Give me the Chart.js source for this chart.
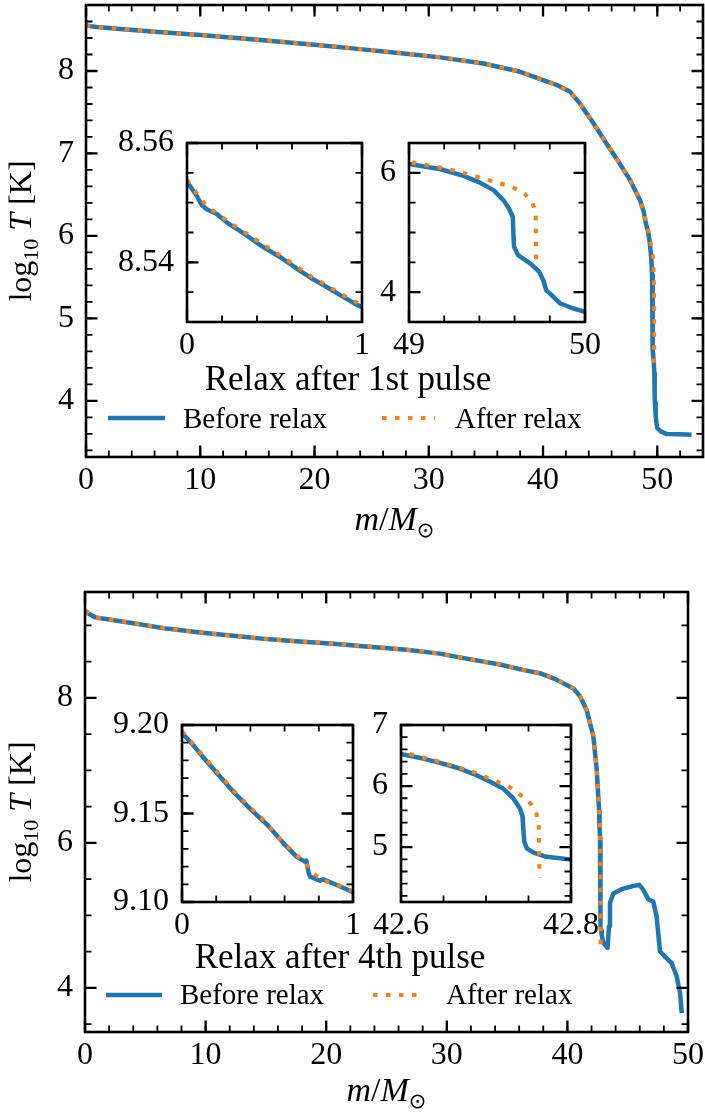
<!DOCTYPE html>
<html>
<head>
<meta charset="utf-8">
<title>Relax profiles</title>
<script src="https://cdn.jsdelivr.net/npm/chart.js@4.4.1/dist/chart.umd.min.js"></script>
<style>
  html, body { margin: 0; padding: 0; background: #fff; }
  #page { position: relative; width: 705px; height: 1118px; overflow: hidden; }
  #page canvas { position: absolute; left: 0; top: 0; }
</style>
</head>
<body>
<div id="page">
  <canvas id="top-main" width="705" height="1118"></canvas>
  <canvas id="bottom-main" width="705" height="1118"></canvas>
  <canvas id="top-core" width="705" height="1118"></canvas>
  <canvas id="top-edge" width="705" height="1118"></canvas>
  <canvas id="bottom-core" width="705" height="1118"></canvas>
  <canvas id="bottom-edge" width="705" height="1118"></canvas>
</div>
<script>
// ---- data ----
const seriesLabels = ['Before relax', 'After relax'];
const panelNotes = ['Relax after 1st pulse', 'Relax after 4th pulse'];

// 1st pulse
const topMassBefore = [0, 0.055, 0.084, 0.113, 0.17, 0.227, 0.341, 0.417, 0.531, 0.655,
  0.713, 0.779, 0.893, 0.97, 1, 3, 6, 10, 15, 20,
  24, 28, 31, 34.8, 38, 39.7, 41.2, 42.35, 43.2, 44.4,
  45.55, 46.7, 47.6, 48.5, 48.8, 49, 49.18, 49.31, 49.4, 49.48,
  49.54, 49.57, 49.59, 49.593, 49.597, 49.62, 49.69, 49.74, 49.763, 49.78,
  49.8, 49.86, 49.93, 50, 50.3, 50.8, 52, 53];
const topLogTBefore = [8.5535, 8.5512, 8.5496, 8.5489, 8.5481, 8.5467, 8.5445, 8.5429, 8.5409, 8.5384,
  8.5373, 8.5362, 8.5342, 8.5329, 8.5325, 8.51, 8.476, 8.435, 8.378, 8.318,
  8.265, 8.21, 8.165, 8.09, 7.99, 7.905, 7.83, 7.75, 7.61, 7.37,
  7.12, 6.88, 6.68, 6.43, 6.30, 6.15, 6.06, 5.95, 5.84, 5.71,
  5.53, 5.39, 5.26, 4.98, 4.76, 4.62, 4.48, 4.34, 4.2, 4.03,
  3.98, 3.81, 3.73, 3.67, 3.63, 3.60, 3.595, 3.59];
const topMassAfter = [0, 0.055, 0.113, 0.227, 0.341, 0.531, 0.713, 0.893, 1, 3,
  6, 10, 15, 20, 24, 28, 31, 34.8, 38, 39.7,
  41.2, 42.35, 43.2, 44.4, 45.55, 46.7, 47.6, 48.5, 48.8, 49,
  49.16, 49.31, 49.44, 49.59, 49.66, 49.7, 49.72, 49.722];
const topLogTAfter = [8.5538, 8.5516, 8.5494, 8.547, 8.5448, 8.5412, 8.5376, 8.5345, 8.5328, 8.511,
  8.477, 8.436, 8.379, 8.319, 8.266, 8.211, 8.166, 8.091, 7.991, 7.906,
  7.831, 7.751, 7.611, 7.371, 7.121, 6.881, 6.681, 6.435, 6.31, 6.18,
  6.10, 6.0, 5.89, 5.76, 5.64, 5.51, 5.33, 4.42];

// 4th pulse
const bottomMassBefore = [0, 0.057, 0.105, 0.154, 0.203, 0.3, 0.4, 0.5, 0.6, 0.67,
  0.719, 0.727, 0.74, 0.749, 0.807, 0.826, 0.905, 1, 2, 4,
  6.77, 9.54, 12.3, 15.07, 17.8, 20.6, 22.8, 26.67, 29.4, 32.2,
  34.4, 36.3, 37.7, 39.1, 40.5, 41.05, 41.6, 42.15, 42.43, 42.601,
  42.626, 42.646, 42.666, 42.685, 42.705, 42.72, 42.732, 42.74, 42.743, 42.744,
  42.745, 42.748, 42.756, 42.771, 42.8, 42.85, 42.98, 43.33, 43.45, 43.53,
  43.81, 44.5, 45.33, 45.96, 46.3, 46.71, 47.12, 47.4, 47.68, 48.09,
  48.65, 49.06, 49.34, 49.48];
const bottomLogTBefore = [9.1955, 9.1897, 9.184, 9.1784, 9.173, 9.1623, 9.1525, 9.1435, 9.1325, 9.1256,
  9.1228, 9.1234, 9.1168, 9.1143, 9.112, 9.1128, 9.1096, 9.1055, 9.08, 9.03,
  8.955, 8.90, 8.855, 8.81, 8.777, 8.745, 8.715, 8.662, 8.61, 8.524,
  8.46, 8.386, 8.34, 8.25, 8.13, 8.02, 7.83, 7.47, 7.01, 6.52,
  6.45, 6.38, 6.30, 6.20, 6.07, 5.96, 5.80, 5.63, 5.50, 5.28,
  5.09, 4.98, 4.91, 4.84, 4.795, 4.72, 4.62, 4.55, 4.85, 5.17,
  5.30, 5.36, 5.40, 5.42, 5.35, 5.22, 5.19, 4.98, 4.50, 4.43,
  4.34, 4.16, 3.93, 3.65];
const bottomMassAfter = [0, 0.105, 0.203, 0.3, 0.4, 0.5, 0.554, 0.667, 0.719, 0.764,
  0.823, 0.895, 0.963, 1, 2, 4, 6.77, 9.54, 12.3, 15.07,
  17.8, 20.6, 22.8, 26.67, 29.4, 32.2, 34.4, 36.3, 37.7, 39.1,
  40.5, 41.05, 41.6, 42.15, 42.43, 42.603, 42.642, 42.685, 42.726, 42.75,
  42.759, 42.762, 42.763];
const bottomLogTAfter = [9.1965, 9.1848, 9.1738, 9.1631, 9.1533, 9.1443, 9.1372, 9.1268, 9.1224, 9.1166,
  9.112, 9.1105, 9.1072, 9.1062, 9.081, 9.031, 8.956, 8.901, 8.856, 8.811,
  8.778, 8.746, 8.716, 8.663, 8.611, 8.525, 8.461, 8.387, 8.341, 8.251,
  8.131, 8.021, 7.831, 7.471, 7.02, 6.55, 6.41, 6.23, 6.0, 5.76,
  5.58, 5.36, 4.50];

// tick labels
const topXTicks = [0, 10, 20, 30, 40, 50];
const topYTicks = [4, 5, 6, 7, 8];
const topCoreXTicks = [0, 1];
const topCoreYTicks = [8.54, 8.56];
const topEdgeXTicks = [49, 50];
const topEdgeYTicks = [4, 6];
const bottomXTicks = [0, 10, 20, 30, 40, 50];
const bottomYTicks = [4, 6, 8];
const bottomCoreXTicks = [0, 1];
const bottomCoreYTicks = [9.10, 9.15, 9.20];
const bottomEdgeXTicks = [42.6, 42.8];
const bottomEdgeYTicks = [5, 6, 7];

// ---- styling / layout ----
const W = 705, H = 1118;
const SERIF = "'Liberation Serif', 'DejaVu Serif', serif";
const BLUE = '#1f77b4', ORANGE = '#ff7f0e';
const Y_SPACE = 80;   // room kept for y tick labels
const X_SPACE = 50;   // room kept for x tick labels

Chart.defaults.font.family = SERIF;
Chart.defaults.font.size = 32;
Chart.defaults.color = '#000';

const areaFill = {
    id: 'areaFill',
    beforeDraw(chart) {
        const a = chart.chartArea;
        chart.ctx.save();
        chart.ctx.fillStyle = '#fff';
        chart.ctx.fillRect(a.left, a.top, a.right - a.left, a.bottom - a.top);
        chart.ctx.restore();
    }
};

// inward ticks on all four sides + frame, like the matplotlib style
const frameTicks = {
    id: 'frameTicks',
    afterDraw(chart, args, opts) {
        const {ctx, chartArea: a, scales} = chart;
        const xs = scales.x, ys = scales.y;
        const minorValues = (scale, step) => {
            const out = [];
            const start = Math.ceil(scale.min / step - 1e-9);
            const end = Math.floor(scale.max / step + 1e-9);
            for (let k = start; k <= end; k++) out.push(k * step);
            return out;
        };
        const drawX = (values, len, lw) => {
            ctx.lineWidth = lw;
            ctx.beginPath();
            values.forEach(v => {
                const px = xs.getPixelForValue(v);
                ctx.moveTo(px, a.bottom); ctx.lineTo(px, a.bottom - len);
                ctx.moveTo(px, a.top); ctx.lineTo(px, a.top + len);
            });
            ctx.stroke();
        };
        const drawY = (values, len, lw) => {
            ctx.lineWidth = lw;
            ctx.beginPath();
            values.forEach(v => {
                const py = ys.getPixelForValue(v);
                ctx.moveTo(a.left, py); ctx.lineTo(a.left + len, py);
                ctx.moveTo(a.right, py); ctx.lineTo(a.right - len, py);
            });
            ctx.stroke();
        };
        ctx.save();
        ctx.strokeStyle = '#000';
        ctx.lineCap = 'butt';
        drawX(minorValues(xs, opts.xMinor), 6.5, 1.8);
        drawY(minorValues(ys, opts.yMinor), 6.5, 1.8);
        drawX(xs.ticks.map(t => t.value), 11.5, 2.3);
        drawY(ys.ticks.map(t => t.value), 11.5, 2.3);
        ctx.lineWidth = 2.6;
        ctx.strokeRect(a.left, a.top, a.right - a.left, a.bottom - a.top);
        ctx.restore();
    }
};

function runsWidth(ctx, runs) {
    let w = 0;
    runs.forEach(r => { ctx.font = r.font; w += ctx.measureText(r.text).width; });
    return w;
}

function drawRuns(ctx, runs, cx, baseY) {
    let x = cx - runsWidth(ctx, runs) / 2;
    ctx.textAlign = 'left';
    ctx.textBaseline = 'alphabetic';
    runs.forEach(r => {
        ctx.font = r.font;
        ctx.fillText(r.text, x, baseY + (r.dy || 0));
        x += ctx.measureText(r.text).width;
    });
}

const yTitleRuns = [
    {text: 'log', font: `32px ${SERIF}`},
    {text: '10', font: `22px ${SERIF}`, dy: 7},
    {text: ' ', font: `32px ${SERIF}`},
    {text: 'T', font: `italic 32px ${SERIF}`},
    {text: ' [K]', font: `32px ${SERIF}`}
];
const xTitleRuns = [
    {text: 'm', font: `italic 34px ${SERIF}`},
    {text: '/', font: `34px ${SERIF}`},
    {text: 'M', font: `italic 34px ${SERIF}`},
    {text: '\u2299', font: `21px 'DejaVu Sans', ${SERIF}`, dy: 7}
];

// axis titles, panel note and legend of a main panel
const panelText = {
    id: 'panelText',
    afterDraw(chart, args, o) {
        const {ctx, chartArea: a} = chart;
        ctx.save();
        ctx.fillStyle = '#000';
        // y title, rotated
        ctx.save();
        ctx.translate(o.yTitleX, (a.top + a.bottom) / 2);
        ctx.rotate(-Math.PI / 2);
        drawRuns(ctx, yTitleRuns, 0, 0);
        ctx.restore();
        drawRuns(ctx, xTitleRuns, (a.left + a.right) / 2, o.xTitleY);
        drawRuns(ctx, [{text: o.note, font: `35px ${SERIF}`}], o.noteX, o.noteY);
        // legend
        chart.data.datasets.forEach((ds, i) => {
            const it = o.legend[i];
            ctx.save();
            ctx.strokeStyle = ds.borderColor;
            ctx.lineWidth = ds.borderWidth;
            ctx.lineCap = 'butt';
            ctx.setLineDash(ds.borderDash || []);
            ctx.beginPath();
            ctx.moveTo(it.x0, o.legendLineY);
            ctx.lineTo(it.x1, o.legendLineY);
            ctx.stroke();
            ctx.restore();
            ctx.font = `29px ${SERIF}`;
            ctx.textAlign = 'left';
            ctx.textBaseline = 'alphabetic';
            ctx.fillText(ds.label, it.tx, o.legendTextY);
        });
        ctx.restore();
    }
};

function axis(def, dir) {
    return {
        type: 'linear',
        min: def.min,
        max: def.max,
        bounds: 'data',
        grid: {display: false, drawTicks: false},
        border: {display: false},
        ticks: {
            padding: def.pad,
            autoSkip: false,
            maxRotation: 0,
            minRotation: 0,
            font: {size: 32},
            callback: v => Number(v).toFixed(def.dec)
        },
        afterBuildTicks: s => { s.ticks = def.ticks.map(v => ({value: v})); },
        afterFit: s => {
            if (dir === 'x') s.height = X_SPACE; else s.width = Y_SPACE;
            s.paddingLeft = s.paddingRight = s.paddingTop = s.paddingBottom = 0;
        }
    };
}

function makeSeries(mass, logT, i) {
    const after = i === 1;
    return {
        label: seriesLabels[i],
        data: mass.map((m, k) => ({x: m, y: logT[k]})),
        borderColor: after ? ORANGE : BLUE,
        borderWidth: after ? 4 : 4.5,
        borderDash: after ? [4.5, 8.5] : [],
        borderCapStyle: 'butt',
        borderJoinStyle: 'round',
        pointRadius: 0,
        tension: 0,
        fill: false,
        clip: 0,
        order: after ? 0 : 1   // dotted "after" curve drawn on top
    };
}

function buildPanel(p) {
    return new Chart(document.getElementById(p.id), {
        type: 'line',
        data: {
            datasets: [
                makeSeries(p.before[0], p.before[1], 0),
                makeSeries(p.after[0], p.after[1], 1)
            ]
        },
        options: {
            responsive: false,
            animation: false,
            events: [],
            layout: {
                padding: {
                    left: p.box.left - Y_SPACE,
                    top: p.box.top,
                    right: W - p.box.right,
                    bottom: H - p.box.bottom - X_SPACE
                }
            },
            scales: {
                x: axis(p.x, 'x'),
                y: axis(p.y, 'y')
            },
            plugins: {
                legend: {display: false},
                tooltip: {enabled: false},
                frameTicks: {xMinor: p.x.minor, yMinor: p.y.minor},
                panelText: p.text || false
            }
        },
        plugins: [areaFill, frameTicks, panelText]
    });
}

const topBefore = [topMassBefore, topLogTBefore];
const topAfter = [topMassAfter, topLogTAfter];
const bottomBefore = [bottomMassBefore, bottomLogTBefore];
const bottomAfter = [bottomMassAfter, bottomLogTAfter];

buildPanel({
    id: 'top-main', box: {left: 86, top: 5, right: 703, bottom: 457},
    x: {min: 0, max: 54, ticks: topXTicks, minor: 2, dec: 0, pad: 4},
    y: {min: 3.32, max: 8.8, ticks: topYTicks, minor: 0.2, dec: 0, pad: 12},
    before: topBefore, after: topAfter,
    text: {yTitleX: 31, xTitleY: 530, note: panelNotes[0], noteX: 348, noteY: 390,
        legendLineY: 418, legendTextY: 428,
        legend: [{x0: 108, x1: 165, tx: 183}, {x0: 382, x1: 435, tx: 455}]}
});

buildPanel({
    id: 'bottom-main', box: {left: 85, top: 592, right: 688, bottom: 1032},
    x: {min: 0, max: 50, ticks: bottomXTicks, minor: 2, dec: 0, pad: 4},
    y: {min: 3.39, max: 9.46, ticks: bottomYTicks, minor: 0.5, dec: 0, pad: 12},
    before: bottomBefore, after: bottomAfter,
    text: {yTitleX: 31, xTitleY: 1101, note: panelNotes[1], noteX: 340, noteY: 968,
        legendLineY: 995, legendTextY: 1004,
        legend: [{x0: 106, x1: 162, tx: 180}, {x0: 373, x1: 425, tx: 446}]}
});

buildPanel({
    id: 'top-core', box: {left: 187, top: 143, right: 362, bottom: 322},
    x: {min: 0, max: 1, ticks: topCoreXTicks, minor: 0.2, dec: 0, pad: 4},
    y: {min: 8.53, max: 8.56, ticks: topCoreYTicks, minor: 0.005, dec: 2, pad: 13},
    before: topBefore, after: topAfter
});

buildPanel({
    id: 'top-edge', box: {left: 409, top: 143, right: 585, bottom: 322},
    x: {min: 49, max: 50, ticks: topEdgeXTicks, minor: 0.2, dec: 0, pad: 4},
    y: {min: 3.5, max: 6.5, ticks: topEdgeYTicks, minor: 0.5, dec: 0, pad: 13},
    before: topBefore, after: topAfter
});

buildPanel({
    id: 'bottom-core', box: {left: 182, top: 725, right: 353, bottom: 902},
    x: {min: 0, max: 1, ticks: bottomCoreXTicks, minor: 0.2, dec: 0, pad: 4},
    y: {min: 9.10, max: 9.20, ticks: bottomCoreYTicks, minor: 0.01, dec: 2, pad: 13},
    before: bottomBefore, after: bottomAfter
});

buildPanel({
    id: 'bottom-edge', box: {left: 401, top: 725, right: 571, bottom: 902},
    x: {min: 42.6, max: 42.8, ticks: bottomEdgeXTicks, minor: 0.05, dec: 1, pad: 4},
    y: {min: 4.1, max: 7.0, ticks: bottomEdgeYTicks, minor: 0.2, dec: 0, pad: 13},
    before: bottomBefore, after: bottomAfter
});
</script>
</body>
</html>
